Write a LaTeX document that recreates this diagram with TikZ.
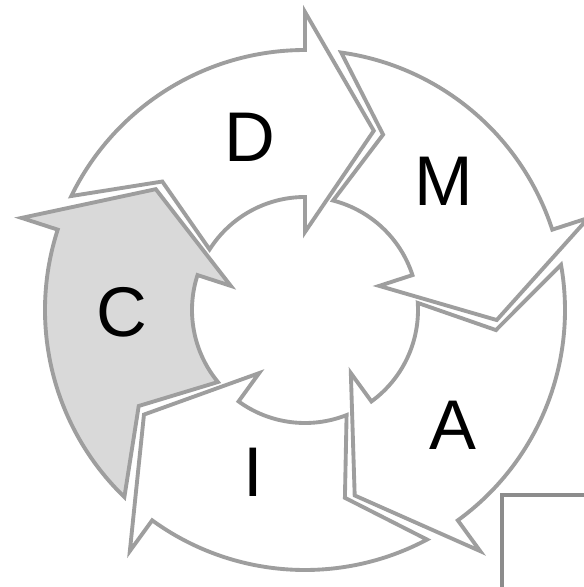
\documentclass[tikz,border=0pt]{standalone}
\usepackage{fontspec}
\setmainfont{Liberation Sans}
\definecolor{rim}{HTML}{9E9E9E}
\definecolor{shade}{HTML}{D9D9D9}
\definecolor{frame}{HTML}{8C8C8C}
\tikzset{
  every node/.style={inner sep=0pt, font=\fontsize{20}{24}\selectfont},
  part/.style={draw=rim, fill=white, line width=1.1pt, line join=miter},
}

\begin{document}
\begin{tikzpicture}[x=0.01cm, y=0.01cm]
\useasboundingbox (0,0) rectangle (584,587);
\clip (0,0) rectangle (584,587);
% Ring of arrows
\begin{scope}[shift={(305,277)}]
    \draw[part, rotate=90] (64:260) arc[start angle=64, end angle=0, radius=260] -- (0:298) -- (-21:192) -- (0:78) -- (0:113) arc[start angle=0, end angle=57.6, radius=113] -- (48:192) -- cycle;
    \draw[part, rotate=18] (64:260) arc[start angle=64, end angle=0, radius=260] -- (0:298) -- (-21:192) -- (0:78) -- (0:113) arc[start angle=0, end angle=57.6, radius=113] -- (48:192) -- cycle;
    \draw[part, rotate=-54] (64:260) arc[start angle=64, end angle=0, radius=260] -- (0:298) -- (-21:192) -- (0:78) -- (0:113) arc[start angle=0, end angle=57.6, radius=113] -- (48:192) -- cycle;
    \draw[part, rotate=-126] (64:260) arc[start angle=64, end angle=0, radius=260] -- (0:298) -- (-21:192) -- (0:78) -- (0:113) arc[start angle=0, end angle=57.6, radius=113] -- (48:192) -- cycle;
    \draw[part, fill=shade, rotate=162] (64:260) arc[start angle=64, end angle=0, radius=260] -- (0:298) -- (-21:192) -- (0:78) -- (0:113) arc[start angle=0, end angle=57.6, radius=113] -- (48:192) -- cycle;
\end{scope}
% Phase letters
    \node (define) at (250,450) {D};
    \node (measure) at (444,406) {M};
    \node (analyse) at (453,162) {A};
    \node (improve) at (253,115) {I};
    \node (control) at (122,275) {C};
% Frame in the corner
    \draw[line width=1.4pt, frame] (600,92) -- (502,92) -- (502,-10);
\end{tikzpicture}
\end{document}
